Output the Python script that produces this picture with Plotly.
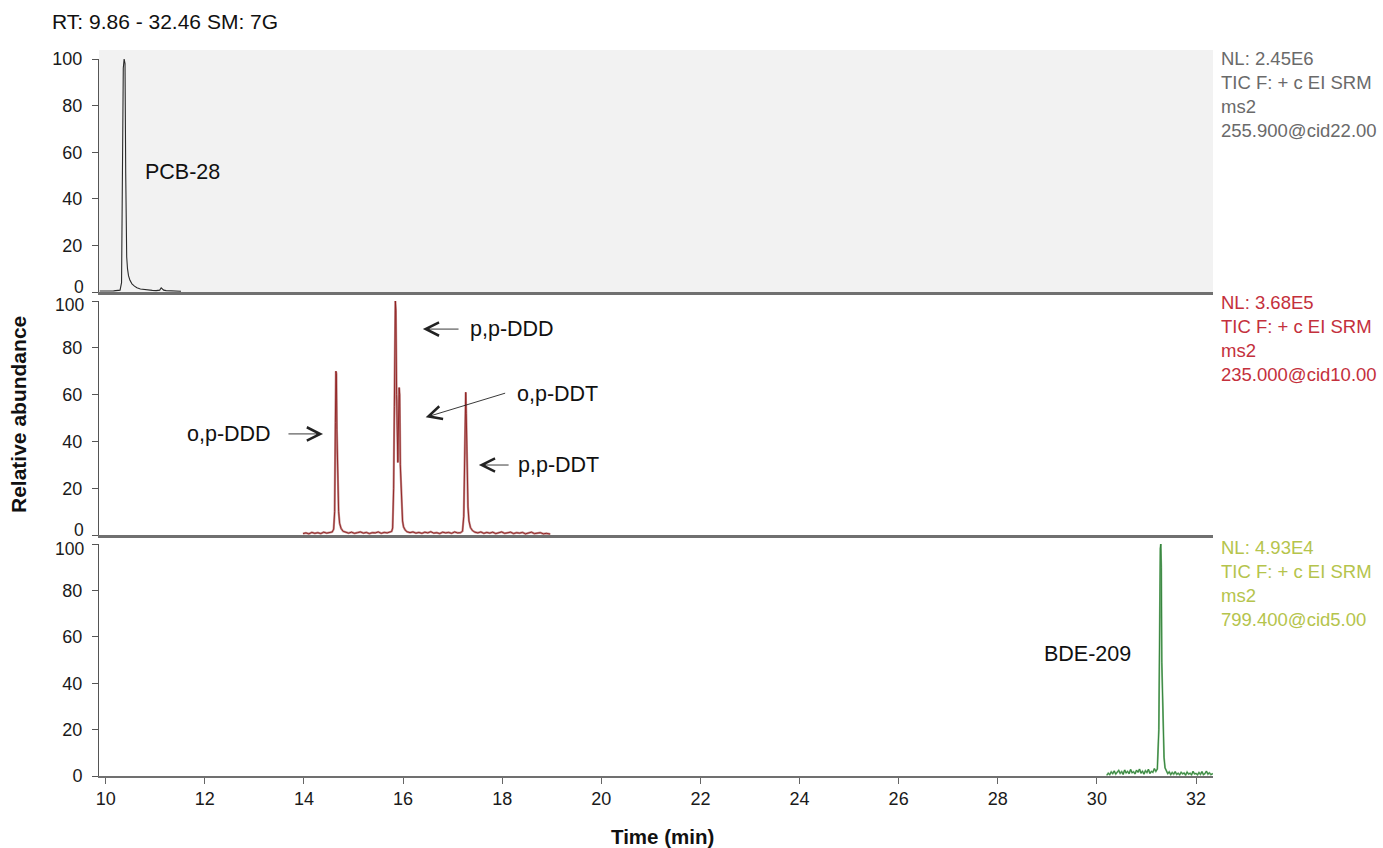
import plotly.graph_objects as go

# ---------------- data ----------------
top_time = [9.88, 9.95, 10.02, 10.09, 10.16, 10.23, 10.29, 10.32, 10.335, 10.345,
            10.355, 10.372, 10.39, 10.404, 10.414, 10.424, 10.44, 10.46, 10.49, 10.53,
            10.58, 10.63, 10.70, 10.78, 10.86, 10.94, 11.02, 11.09, 11.12, 11.14,
            11.17, 11.22, 11.30, 11.38, 11.46, 11.52]
top_abund = [0.4, 0.3, 0.5, 0.4, 0.5, 0.6, 0.8, 4, 39, 48,
             96, 100, 98, 51, 30, 15, 10, 7, 5, 3.5,
             2.5, 1.8, 1.3, 1.0, 0.8, 0.7, 0.6, 0.8, 1.8, 1.5,
             0.8, 0.6, 0.5, 0.4, 0.4, 0.3]

mid_time = [13.98, 14.04, 14.10, 14.16, 14.22, 14.28, 14.34, 14.40, 14.46, 14.52,
            14.57, 14.60, 14.62, 14.635, 14.645, 14.655, 14.665, 14.68, 14.70, 14.72,
            14.75, 14.79, 14.84, 14.90, 14.96, 15.02, 15.08, 15.14, 15.20, 15.26,
            15.32, 15.38, 15.44, 15.50, 15.56, 15.62, 15.68, 15.73, 15.77, 15.79,
            15.81, 15.825, 15.835, 15.845, 15.855, 15.87, 15.895, 15.91, 15.922, 15.932,
            15.945, 15.96, 15.975, 15.99, 16.01, 16.04, 16.08, 16.14, 16.20, 16.26,
            16.32, 16.38, 16.44, 16.50, 16.56, 16.62, 16.68, 16.74, 16.80, 16.86,
            16.92, 16.98, 17.04, 17.10, 17.16, 17.20, 17.225, 17.24, 17.255, 17.265,
            17.275, 17.29, 17.31, 17.33, 17.36, 17.40, 17.45, 17.51, 17.57, 17.63,
            17.69, 17.75, 17.81, 17.87, 17.93, 17.99, 18.05, 18.11, 18.17, 18.23,
            18.29, 18.35, 18.41, 18.47, 18.53, 18.59, 18.65, 18.71, 18.77, 18.83,
            18.89, 18.97]
mid_abund = [0.6, 0.9, 0.5, 1.1, 0.7, 1.0, 0.6, 1.2, 0.8, 1.0,
             1.3, 2.5, 10, 48, 70, 69, 45, 22, 10, 5,
             2.8, 1.6, 1.1, 0.8, 1.2, 0.7, 1.0, 1.3, 0.8, 1.1,
             0.6, 1.0, 0.9, 1.3, 0.7, 1.1, 0.9, 1.2, 1.5, 3,
             20, 55, 75, 100, 96, 60, 31, 50, 63, 60,
             30, 18, 10, 6, 3.5, 2.2, 1.4, 1.0, 1.3, 0.8,
             1.1, 0.7, 1.2, 0.9, 1.4, 0.8, 1.0, 0.6, 1.2, 0.9,
             1.1, 0.7, 1.3, 0.9, 1.0, 1.6, 8, 31, 55, 61,
             52, 30, 12, 6, 3.2, 1.9, 1.2, 0.9, 1.3, 0.7,
             1.1, 0.8, 1.2, 0.6, 1.0, 1.3, 0.7, 0.9, 1.2, 0.6,
             1.0, 0.8, 1.1, 0.5, 0.9, 1.2, 0.6, 0.8, 1.0, 0.5,
             0.7, 0.4]

bot_time = [30.20, 30.23, 30.26, 30.29, 30.32, 30.35, 30.38, 30.41, 30.44, 30.47,
            30.50, 30.53, 30.56, 30.59, 30.62, 30.65, 30.68, 30.71, 30.74, 30.77,
            30.80, 30.83, 30.86, 30.89, 30.92, 30.95, 30.98, 31.01, 31.04, 31.07,
            31.10, 31.13, 31.16, 31.19, 31.22, 31.25, 31.265, 31.28, 31.29, 31.30,
            31.31, 31.33, 31.355, 31.375, 31.40, 31.43, 31.46, 31.49, 31.52, 31.55,
            31.58, 31.61, 31.64, 31.67, 31.70, 31.73, 31.76, 31.79, 31.82, 31.85,
            31.88, 31.91, 31.94, 31.97, 32.00, 32.03, 32.06, 32.09, 32.12, 32.15,
            32.18, 32.21, 32.24, 32.27, 32.30, 32.34]
bot_abund = [0.3, 1.2, 0.6, 1.8, 1.0, 2.2, 0.8, 1.5, 2.4, 1.1,
             1.9, 0.7, 2.6, 1.3, 2.0, 1.0, 2.8, 1.4, 1.8, 0.9,
             2.5, 1.6, 3.0, 1.2, 2.1, 0.8, 2.3, 1.5, 2.9, 1.1,
             2.0, 1.6, 3.2, 2.0, 3.0, 20, 75, 98, 100, 90,
             49, 25, 8, 3.5, 2.2, 1.0, 1.8, 0.6, 1.5, 0.8,
             1.9, 0.7, 1.2, 0.5, 1.6, 0.9, 1.3, 0.4, 1.7, 0.8,
             1.2, 0.5, 2.0, 0.9, 1.1, 0.5, 1.5, 0.7, 1.9, 0.6,
             1.0, 2.1, 0.8, 1.4, 0.6, 1.0]

x_ticks = [10, 12, 14, 16, 18, 20, 22, 24, 26, 28, 30, 32]
y_ticks = [0, 20, 40, 60, 80, 100]
y_labels = ["0", "20", "40", "60", "80", "100"]
x_range = [9.865, 32.343]

# ---------------- layout helpers ----------------
W, H = 1383, 848
FONT = "Liberation Sans, Arial, Helvetica, sans-serif"


def px_x(p):
    return p / W


def px_y(p):
    return 1 - p / H


x_dom = [px_x(99), px_x(1213)]
dom_top = [px_y(292), px_y(59)]
dom_mid = [px_y(535), px_y(301)]
dom_bot = [px_y(776), px_y(544)]

fig = go.Figure()
fig.add_trace(go.Scatter(x=top_time, y=top_abund, mode="lines", xaxis="x", yaxis="y",
                         line=dict(color="#2a2a2a", width=1.1), showlegend=False))
fig.add_trace(go.Scatter(x=mid_time, y=mid_abund, mode="lines", xaxis="x2", yaxis="y2",
                         line=dict(color="#c49090", width=2.2), showlegend=False))
fig.add_trace(go.Scatter(x=mid_time, y=mid_abund, mode="lines", xaxis="x2", yaxis="y2",
                         line=dict(color="#8e1d1d", width=0.9), showlegend=False))
fig.add_trace(go.Scatter(x=bot_time, y=bot_abund, mode="lines", xaxis="x3", yaxis="y3",
                         line=dict(color="#7fb882", width=1.8), showlegend=False))
fig.add_trace(go.Scatter(x=bot_time, y=bot_abund, mode="lines", xaxis="x3", yaxis="y3",
                         line=dict(color="#2f7f37", width=0.9), showlegend=False))

TICK_SIZE = 18
tickfont = dict(family=FONT, size=TICK_SIZE, color="#1a1a1a")


def yaxis(dom, anchor, hide):
    txt = ["" if v in hide else l for v, l in zip(y_ticks, y_labels)]
    return dict(domain=dom, range=[0, 100], anchor=anchor, tickvals=y_ticks,
                ticktext=txt, ticks="outside", ticklen=6, tickcolor="#555",
                tickwidth=1, ticklabelstandoff=6,
                showline=True, linecolor="#555", linewidth=1, showgrid=False,
                zeroline=False, tickfont=tickfont, fixedrange=True, automargin=False)


def xaxis(anchor, labels):
    d = dict(domain=x_dom, range=x_range, anchor=anchor, showgrid=False, zeroline=False,
             showline=True, linecolor="#707070", fixedrange=True, automargin=False)
    if labels:
        d.update(tickvals=x_ticks, ticks="outside", ticklen=6, tickcolor="#666",
                 linewidth=1.5, tickfont=tickfont)
    else:
        d.update(showticklabels=False, ticks="", linewidth=2.5)
    return d


fig.update_layout(
    width=W, height=H,
    margin=dict(l=0, r=0, t=0, b=0, pad=0, autoexpand=False),
    paper_bgcolor="white",
    plot_bgcolor="rgba(0,0,0,0)",
    showlegend=False,
    font=dict(family=FONT, color="#1a1a1a"),
    xaxis=xaxis("y", False),
    xaxis2=xaxis("y2", False),
    xaxis3=xaxis("y3", True),
    yaxis=yaxis(dom_top, "x", [0]),
    yaxis2=yaxis(dom_mid, "x2", [0, 100]),
    yaxis3=yaxis(dom_bot, "x3", [100]),
)

# gray background of the top panel
fig.add_shape(type="rect", xref="paper", yref="paper", x0=x_dom[0], x1=x_dom[1],
              y0=px_y(292), y1=px_y(50), fillcolor="#f2f2f2", line=dict(width=0),
              layer="below")

ann = []
lab = dict(family=FONT, size=21.5, color="#111")
# title
ann.append(dict(text="RT: 9.86 - 32.46 SM: 7G", xref="paper", yref="paper",
                x=px_x(50), y=px_y(22), xanchor="left", yanchor="middle",
                showarrow=False, font=dict(family=FONT, size=21, color="#111")))
# axis titles
ann.append(dict(text="<b>Time (min)</b>", xref="paper", yref="paper", x=px_x(662), y=px_y(836),
                xanchor="center", yanchor="middle", showarrow=False,
                font=dict(family=FONT, size=20.5, color="#111")))
ann.append(dict(text="<b>Relative abundance</b>", xref="paper", yref="paper", x=px_x(19),
                y=px_y(415), xanchor="center", yanchor="middle", textangle=-90,
                showarrow=False, font=dict(family=FONT, size=21, color="#111")))

# tick labels at panel joints (placed as in the reference, nudged apart)
joint_labels = [("0", 287), ("100", 305), ("0", 530), ("100", 549)]
for txt, ypix in joint_labels:
    ann.append(dict(text=txt, xref="paper", yref="paper", x=px_x(86), y=px_y(ypix),
                    xanchor="right", yanchor="middle", showarrow=False,
                    font=dict(family=FONT, size=17.5, color="#1a1a1a")))

# right-side info blocks
info = [
    ("NL: 2.45E6<br>TIC F: + c EI SRM<br>ms2<br>255.900@cid22.00", "#6a6a6a", 46),
    ("NL: 3.68E5<br>TIC F: + c EI SRM<br>ms2<br>235.000@cid10.00", "#c4303c", 290),
    ("NL: 4.93E4<br>TIC F: + c EI SRM<br>ms2<br>799.400@cid5.00", "#b5c44c", 535),
]
for txt, col, top in info:
    ann.append(dict(text=txt, xref="paper", yref="paper", x=px_x(1219), y=px_y(top),
                    xanchor="left", yanchor="top", align="left", showarrow=False,
                    font=dict(family=FONT, size=18.5, color=col)))

# peak labels
ann.append(dict(text="PCB-28", xref="x", yref="y", x=10.75, y=51.5, xanchor="left",
                yanchor="middle", showarrow=False, font=lab))
ann.append(dict(text="BDE-209", xref="x3", yref="y3", x=28.89, y=52.6, xanchor="left",
                yanchor="middle", showarrow=False, font=lab))
ann.append(dict(text="p,p-DDD", xref="x2", yref="y2", x=17.32, y=88, xanchor="left",
                yanchor="middle", showarrow=False, font=lab))
ann.append(dict(text="o,p-DDT", xref="x2", yref="y2", x=18.26, y=60.3, xanchor="left",
                yanchor="middle", showarrow=False, font=lab))
ann.append(dict(text="o,p-DDD", xref="x2", yref="y2", x=13.37, y=43.2, xanchor="right",
                yanchor="middle", showarrow=False, font=lab))
ann.append(dict(text="p,p-DDT", xref="x2", yref="y2", x=18.27, y=29.9, xanchor="left",
                yanchor="middle", showarrow=False, font=lab))

# arrows (head at x,y ; tail at ax,ay)
arrows = [
    (16.40, 88, 17.15, 88),
    (16.457, 50.3, 18.09, 60.8),
    (14.385, 43.2, 13.658, 43.2),
    (17.53, 29.9, 18.16, 29.9),
]
for hx, hy, tx, ty in arrows:
    ann.append(dict(text="", xref="x2", yref="y2", axref="x2", ayref="y2",
                    x=hx, y=hy, ax=tx, ay=ty, showarrow=True, arrowhead=5,
                    arrowsize=2.9, arrowwidth=0.9, arrowcolor="#222", standoff=0))

fig.update_layout(annotations=ann)
fig.write_html("out.html")
